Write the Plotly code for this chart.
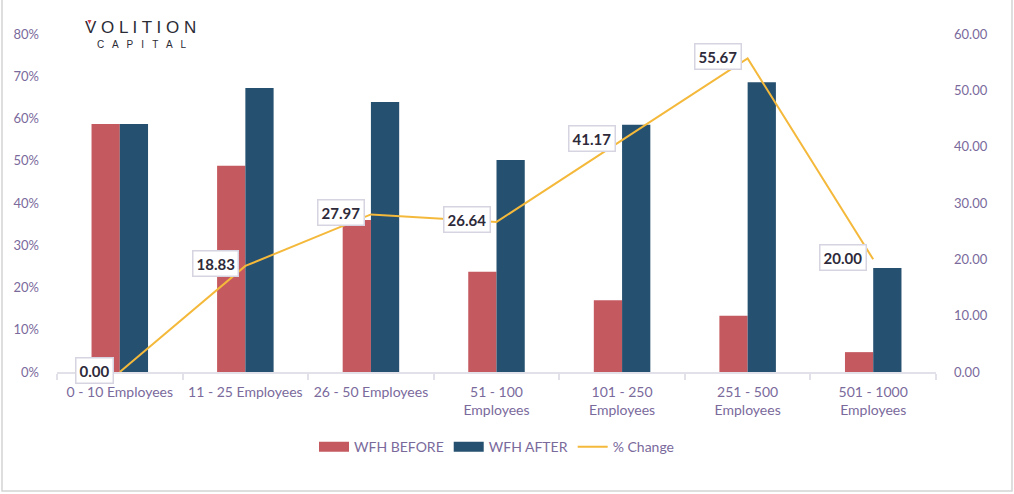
import plotly.graph_objects as go

categories = ["0 - 10 Employees", "11 - 25 Employees", "26 - 50 Employees",
              "51 - 100<br>Employees", "101 - 250<br>Employees",
              "251 - 500<br>Employees", "501 - 1000<br>Employees"]
wfh_before = [0.587, 0.488, 0.36, 0.237, 0.17, 0.133, 0.047]
wfh_after = [0.587, 0.672, 0.639, 0.502, 0.585, 0.686, 0.246]
pct_change = [0.00, 18.83, 27.97, 26.64, 41.17, 55.67, 20.00]
left_ticks = [0, 0.1, 0.2, 0.3, 0.4, 0.5, 0.6, 0.7, 0.8]
right_ticks = [0, 10, 20, 30, 40, 50, 60]

W, H = 1014, 494
L, R, T, B = 57, 78, 34, 122
PW, PH = W - L - R, H - T - B

purple = "#7a6a9c"
red = "#C4595F"
blue = "#26506F"
gold = "#F4B93B"
font_fam = "Lato, 'Open Sans', sans-serif"


def px(xp):
    return (xp - L) / PW


def py(yp):
    return (H - B - yp) / PH


fig = go.Figure()
fig.add_trace(go.Bar(x=categories, y=wfh_before, name="WFH BEFORE", marker_color=red,
                     marker_line_width=0, showlegend=False))
fig.add_trace(go.Bar(x=categories, y=wfh_after, name="WFH AFTER", marker_color=blue,
                     marker_line_width=0, showlegend=False))
# legend swatches (wide rectangles like the reference)
fig.add_trace(go.Scatter(x=[None], y=[None], name="WFH BEFORE", mode="lines",
                         line=dict(color=red, width=10)))
fig.add_trace(go.Scatter(x=[None], y=[None], name="WFH AFTER", mode="lines",
                         line=dict(color=blue, width=10)))
fig.add_trace(go.Scatter(x=categories, y=pct_change, name="% Change", yaxis="y2",
                         mode="lines", line=dict(color=gold, width=2)))

for c, v in zip(categories, pct_change):
    fig.add_annotation(x=c, y=v, xref="x", yref="y2", text=f"{v:.2f}",
                       showarrow=False, xanchor="right", yanchor="middle",
                       xshift=-6, yshift=2,
                       font=dict(family=font_fam, size=15, color="#2e2a3a", weight=700),
                       bgcolor="white", bordercolor="#d6d4e0", borderwidth=1.5,
                       borderpad=3)

# logo
fig.add_annotation(x=px(140), y=py(27), xref="paper", yref="paper",
                   text="V O L I T I O N", showarrow=False,
                   font=dict(family="'Liberation Sans', sans-serif", size=17, color="#2b2b35"),
                   xanchor="center", yanchor="middle")
fig.add_annotation(x=px(141), y=py(44), xref="paper", yref="paper",
                   text="C   A   P   I   T   A   L", showarrow=False,
                   font=dict(family="'Liberation Sans', sans-serif", size=10, color="#2b2b35"),
                   xanchor="center", yanchor="middle")
fig.add_shape(type="path", xref="paper", yref="paper",
              path=f"M {px(87.5)} {py(20)} L {px(91.5)} {py(20)} L {px(89.5)} {py(24)} Z",
              fillcolor="#d0404a", line=dict(width=0))

# border
fig.add_shape(type="rect", xref="paper", yref="paper",
              x0=px(2), x1=px(1012), y0=py(491), y1=py(-10),
              line=dict(color="#d4d4d4", width=1.5), fillcolor="rgba(0,0,0,0)")

fig.update_layout(
    width=W, height=H,
    margin=dict(l=L, r=R, t=T, b=B),
    paper_bgcolor="white", plot_bgcolor="white",
    barmode="group", bargap=0.55, bargroupgap=0,
    font=dict(family=font_fam, color=purple, size=13),
    showlegend=True,
    legend=dict(orientation="h", x=0.5, xanchor="center", y=-0.175, yanchor="top",
                font=dict(size=14, color=purple), itemwidth=30),
    xaxis=dict(showgrid=False, showline=True, linecolor="#e2e1ea", linewidth=2,
               ticks="outside", tickson="boundaries", ticklen=6, tickcolor="#e2e1ea",
               tickwidth=2, ticklabelstandoff=6, tickangle=0,
               tickfont=dict(size=14, color=purple)),
    yaxis=dict(range=[0, 0.8], tickvals=left_ticks, tickformat=".0%", showgrid=False,
               zeroline=False, showline=False, ticklabelstandoff=17,
               tickfont=dict(size=13, color=purple)),
    yaxis2=dict(range=[0, 60], tickvals=right_ticks, tickformat=".2f", overlaying="y",
                side="right", showgrid=False, zeroline=False, showline=False,
                ticklabelstandoff=17, tickfont=dict(size=13, color=purple)),
)

fig.write_html("out.html", config={"displayModeBar": False},
               post_script="document.body.style.margin='0';")
